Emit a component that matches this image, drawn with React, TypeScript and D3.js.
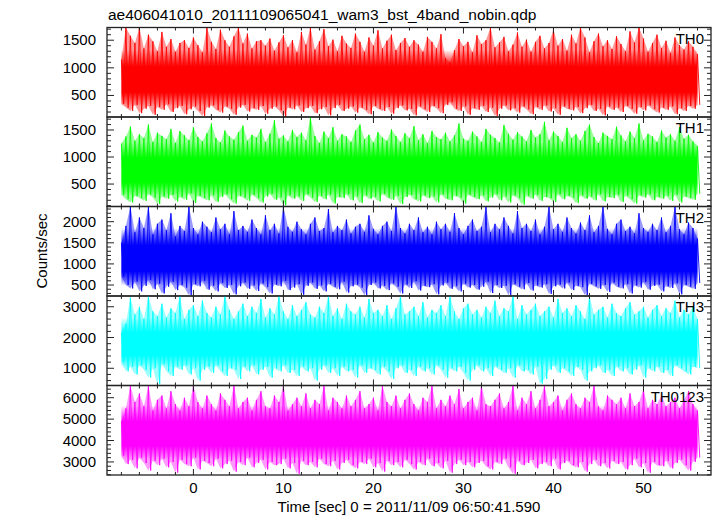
import React from 'react';
import * as d3 from 'd3';

// half-second envelope (max / min counts), t = -8 .. 56
const th0Hi = [1150, 1730, 1580, 1450, 1730, 1350, 1600, 1480, 1300, 1650,
  1380, 1520, 1290, 1450, 1500, 1360, 1550, 1410, 1280, 1730,
  1470, 1340, 1690, 1500, 1380, 1570, 1730, 1440, 1620, 1350,
  1480, 1500, 1400, 1530, 1310, 1460, 1590, 1370, 1500, 1280,
  1650, 1420, 1730, 1330, 1480, 1700, 1390, 1510, 1300, 1580,
  1440, 1360, 1620, 1470, 1290, 1550, 1400, 1680, 1350, 1490,
  1600, 1320, 1450, 1540, 1380, 1500, 1420, 1290, 1560, 1470,
  1350, 1610, 1180, 1100, 1320, 1520, 1390, 1470, 1280, 1590,
  1430, 1500, 1730, 1370, 1460, 1560, 1300, 1420, 1640, 1380,
  1510, 1290, 1470, 1580, 1350, 1450, 1690, 1400, 1520, 1310,
  1600, 1440, 1730, 1550, 1280, 1480, 1620, 1390, 1500, 1340,
  1570, 1430, 1300, 1660, 1460, 1730, 1530, 1290, 1450, 1600,
  1360, 1490, 1270, 1550, 1410, 1330, 1480, 1380, 1250];
const th0Lo = [350, 280, 220, 330, 180, 260, 310, 150, 290, 240,
  340, 200, 270, 310, 160, 250, 300, 220, 130, 280,
  320, 240, 190, 300, 260, 150, 280, 330, 210, 270,
  240, 310, 170, 260, 300, 230, 120, 280, 250, 320,
  200, 270, 310, 180, 250, 290, 140, 270, 330, 220,
  260, 300, 190, 280, 240, 160, 310, 260, 220, 290,
  170, 270, 320, 230, 260, 140, 300, 250, 200, 310,
  270, 180, 330, 380, 260, 220, 300, 150, 270, 240,
  310, 200, 280, 130, 260, 320, 230, 270, 190, 300,
  250, 160, 290, 240, 320, 210, 270, 150, 300, 260,
  230, 290, 180, 270, 330, 220, 260, 140, 300, 240,
  280, 200, 310, 260, 170, 290, 230, 320, 250, 190,
  280, 240, 300, 160, 270, 220, 310, 260, 330];

const th1Hi = [1250, 1380, 1560, 1300, 1420, 1350, 1600, 1280, 1450, 1390,
  1330, 1520, 1260, 1480, 1400, 1310, 1550, 1370, 1290, 1440,
  1620, 1350, 1270, 1490, 1380, 1320, 1460, 1580, 1300, 1410,
  1360, 1520, 1280, 1430, 1680, 1340, 1400, 1290, 1500, 1370,
  1450, 1310, 1740, 1390, 1260, 1470, 1350, 1550, 1300, 1420,
  1380, 1280, 1490, 1600, 1330, 1410, 1270, 1460, 1360, 1300,
  1510, 1390, 1280, 1440, 1350, 1570, 1310, 1420, 1260, 1480,
  1370, 1330, 1450, 1290, 1400, 1620, 1340, 1300, 1470, 1380,
  1280, 1520, 1410, 1350, 1270, 1590, 1430, 1320, 1460, 1380,
  1290, 1500, 1360, 1420, 1650, 1310, 1470, 1390, 1280, 1540,
  1350, 1420, 1300, 1480, 1600, 1370, 1260, 1450, 1390, 1330,
  1560, 1400, 1290, 1470, 1350, 1620, 1310, 1430, 1380, 1280,
  1490, 1360, 1420, 1300, 1550, 1340, 1410, 1290, 1200];
const th1Lo = [300, 220, 160, 280, 240, 190, 310, 250, 130, 270,
  230, 300, 180, 260, 210, 330, 150, 280, 240, 200,
  290, 170, 260, 310, 220, 140, 280, 250, 190, 300,
  240, 160, 270, 320, 210, 250, 110, 290, 230, 270,
  190, 310, 250, 170, 280, 220, 300, 140, 260, 240,
  310, 200, 270, 150, 290, 230, 260, 180, 320, 250,
  210, 280, 130, 260, 300, 220, 180, 290, 240, 270,
  160, 310, 230, 200, 280, 250, 140, 300, 260, 220,
  290, 180, 250, 310, 200, 270, 160, 290, 240, 120,
  280, 230, 300, 190, 260, 240, 170, 310, 220, 280,
  250, 150, 290, 230, 270, 200, 310, 180, 260, 240,
  300, 170, 280, 220, 140, 290, 250, 310, 200, 260,
  230, 280, 190, 300, 160, 270, 240, 210, 320];

const th2Hi = [1500, 1900, 2360, 1750, 2100, 1850, 2360, 1700, 1950, 2050,
  1800, 2200, 1650, 1900, 1780, 2360, 1850, 1700, 2000, 1880,
  1750, 2100, 1820, 1950, 1700, 2250, 1800, 1900, 1760, 2050,
  1850, 1700, 2150, 1800, 1950, 1720, 2360, 1880, 1760, 2000,
  1820, 1700, 1950, 2100, 1780, 1850, 2300, 1750, 1900, 1800,
  2050, 1720, 1880, 1950, 1760, 2150, 1830, 1700, 1900, 2000,
  1780, 2360, 1850, 1720, 1950, 1800, 2100, 1750, 1880, 1700,
  2000, 1820, 1950, 1760, 2200, 1850, 1700, 1900, 2050, 1780,
  1880, 2360, 1750, 1950, 1820, 2100, 1900, 1720, 2250, 1850,
  1950, 1780, 2050, 1700, 1880, 2360, 1820, 1950, 1760, 2100,
  1850, 1720, 1980, 1800, 2150, 1750, 1900, 2360, 1830, 1700,
  1950, 2050, 1780, 1880, 1720, 2200, 1850, 1760, 1950, 1800,
  2100, 1750, 1900, 2360, 1820, 1700, 1980, 1850, 1600];
const th2Lo = [700, 500, 420, 580, 350, 480, 620, 400, 530, 300,
  460, 580, 380, 500, 440, 260, 520, 470, 600, 390,
  480, 350, 550, 430, 500, 280, 470, 560, 410, 490,
  360, 540, 450, 300, 510, 470, 600, 380, 440, 520,
  270, 480, 560, 410, 490, 350, 530, 460, 400, 580,
  320, 470, 510, 440, 260, 500, 560, 420, 480, 380,
  540, 460, 300, 510, 430, 590, 370, 480, 450, 520,
  280, 490, 560, 410, 470, 350, 530, 440, 500, 390,
  460, 580, 310, 500, 430, 480, 260, 520, 460, 400,
  550, 370, 490, 440, 520, 290, 470, 510, 420, 560,
  380, 480, 450, 260, 530, 470, 410, 500, 340, 560,
  460, 420, 520, 300, 490, 440, 570, 390, 480, 510,
  350, 470, 430, 540, 280, 500, 460, 410, 550];

const th3Hi = [2150, 2450, 3300, 2750, 3000, 2600, 3350, 2850, 2700, 3100,
  2650, 2950, 2800, 3350, 2600, 2900, 3050, 2700, 3200, 2800,
  2650, 3000, 2750, 3350, 2900, 2600, 2850, 3100, 2700, 3000,
  2800, 3250, 2650, 2950, 2750, 3350, 2850, 2600, 3050, 2700,
  2900, 3150, 2750, 2650, 3000, 2800, 3350, 2700, 2950, 2600,
  3100, 2850, 2750, 3000, 2650, 3250, 2800, 2900, 2700, 3050,
  2600, 2950, 3350, 2750, 2850, 3000, 2700, 3150, 2650, 2900,
  2800, 3050, 2700, 3350, 2850, 2600, 2950, 3100, 2750, 2900,
  2650, 3000, 2800, 3200, 2700, 2950, 2850, 3350, 2600, 3050,
  2750, 2900, 3100, 2700, 2850, 3000, 2650, 3250, 2800, 2950,
  2700, 3050, 2850, 2600, 3350, 2750, 2900, 3000, 2650, 3100,
  2800, 2700, 2950, 3150, 2750, 2850, 3000, 2650, 2900, 3050,
  2700, 2950, 2800, 3200, 2650, 2900, 2750, 3000, 2600];
const th3Lo = [1200, 900, 1050, 800, 1100, 950, 700, 1000, 480, 1150,
  900, 750, 1050, 950, 1100, 800, 1000, 600, 950, 1050,
  850, 1100, 900, 750, 1000, 950, 650, 1050, 900, 1100,
  800, 950, 1050, 700, 1000, 900, 1100, 850, 950, 750,
  1050, 900, 1000, 600, 950, 1100, 850, 1000, 750, 1050,
  900, 950, 700, 1100, 850, 1000, 950, 800, 1050, 900,
  650, 1000, 1100, 850, 950, 750, 1050, 900, 1000, 800,
  1100, 950, 700, 1000, 900, 1050, 850, 600, 950, 1100,
  900, 1000, 750, 1050, 950, 850, 1000, 700, 1100, 900,
  950, 800, 1050, 500, 650, 950, 1100, 850, 1000, 900,
  750, 1050, 950, 600, 900, 1000, 1100, 850, 950, 750,
  1050, 900, 1000, 800, 950, 1100, 700, 1000, 900, 1050,
  850, 950, 750, 1100, 1000, 900, 800, 1050, 1000];

const th0123Hi = [4900, 5500, 6570, 5800, 6200, 5600, 6570, 5400, 5900, 6100,
  5500, 6300, 5700, 5400, 6000, 5600, 6570, 5800, 5500, 6100,
  5700, 5400, 6200, 5900, 5600, 6570, 5500, 5800, 6000, 5400,
  5900, 6300, 5600, 5500, 6100, 5800, 6570, 5400, 5700, 6000,
  5600, 6200, 5500, 5900, 5700, 6570, 5400, 6000, 5800, 5500,
  6100, 5600, 5900, 6300, 5500, 5700, 6000, 5400, 6570, 5800,
  5600, 6100, 5500, 5900, 6200, 5700, 5400, 6000, 5800, 6570,
  5500, 5900, 5600, 6100, 5700, 6400, 5500, 5800, 6000, 5400,
  6570, 5700, 5600, 5900, 6200, 5500, 5800, 6570, 5400, 6000,
  5700, 6300, 5500, 5900, 6570, 5600, 5800, 6100, 5400, 5900,
  6200, 5700, 5500, 6000, 5800, 6570, 5600, 5400, 6100, 5900,
  5700, 6000, 5500, 6200, 5600, 5800, 6400, 5500, 5900, 5700,
  6100, 5600, 5800, 6000, 5500, 5900, 6300, 5700, 5400];
const th0123Lo = [3300, 2900, 3100, 2700, 3200, 2950, 2600, 3050, 2850, 3150,
  2750, 3000, 2500, 3100, 2900, 2800, 3200, 2650, 3050, 2950,
  2800, 3150, 2700, 2900, 3050, 2550, 3000, 2850, 3200, 2750,
  2950, 3100, 2650, 3000, 2850, 2900, 3150, 2700, 2950, 2450,
  3050, 2850, 3000, 2750, 3150, 2900, 2800, 3050, 2650, 2950,
  3100, 2850, 2700, 3000, 2900, 3150, 2750, 2950, 2550, 3050,
  2850, 3000, 2750, 3100, 2900, 2650, 3000, 2850, 3150, 2800,
  2950, 2700, 3050, 2500, 2900, 3100, 2850, 3000, 2750, 2950,
  3050, 2800, 2650, 3000, 2900, 3150, 2750, 2450, 3050, 2850,
  2950, 3100, 2700, 2900, 3000, 2800, 3150, 2650, 2950, 3050,
  2850, 2750, 3000, 2550, 2900, 3100, 2800, 2950, 2700, 3050,
  2900, 3000, 2650, 2850, 3150, 2750, 2950, 2500, 3000, 2850,
  2800, 3050, 2700, 2950, 3100, 2850, 2600, 3000, 3200];

const bandNames = ['TH0', 'TH1', 'TH2', 'TH3', 'TH0123'];
const bandColors = ['#ff0000', '#00ff00', '#0000ff', '#00ffff', '#ff00ff'];
const bandHi = [th0Hi, th1Hi, th2Hi, th3Hi, th0123Hi];
const bandLo = [th0Lo, th1Lo, th2Lo, th3Lo, th0123Lo];
// count range where the curve is dense enough to look solid (edges fade out)
const coreLow = [300, 280, 480, 1020, 3120];
const coreHigh = [1330, 1280, 1850, 2650, 5650];
const yDomains: [number, number][] = [[110, 1730], [85, 1740], [240, 2360], [440, 3350], [2390, 6570]];
const yMajor = [500, 500, 500, 1000, 1000];
const yMinor = [100, 100, 100, 200, 200];
const xMajorTicks = [0, 10, 20, 30, 40, 50];

const title = 'ae406041010_20111109065041_wam3_bst_4band_nobin.qdp';
const xLabel = 'Time [sec] 0 = 2011/11/09 06:50:41.590';
const yLabel = 'Counts/sec';

const W = 717, H = 516;
const left = 107, right = 711, top = 27.5, panelH = 89.5;
const font = '"Liberation Sans", Arial, Helvetica, sans-serif';

const App: React.FC = () => {
  const x = d3.scaleLinear().domain([-9.6, 57.5]).range([left, right]);
  const times = th0Hi.map((_, i) => -8 + i * 0.5);
  const xMinor = d3.range(-8, 57.5, 2).filter(v => v % 10 !== 0);
  const frame = '#222';

  return (
    <svg width={W} height={H} style={{ position: 'absolute', left: 0, top: 0, background: '#fff' }}
      fontFamily={font}>
      <defs>
        {bandNames.map((n, k) => (
          <clipPath id={`clip${k}`} key={n}>
            <rect x={left} y={top + k * panelH} width={right - left} height={panelH} />
          </clipPath>
        ))}
        {bandNames.map((n, k) => (
          <linearGradient id={`core${k}`} key={`g${n}`} x1="0" y1="0" x2="0" y2="1">
            <stop offset="0" stopColor={bandColors[k]} stopOpacity={0} />
            <stop offset="0.3" stopColor={bandColors[k]} stopOpacity={1} />
            <stop offset="0.75" stopColor={bandColors[k]} stopOpacity={1} />
            <stop offset="1" stopColor={bandColors[k]} stopOpacity={0} />
          </linearGradient>
        ))}
      </defs>
      <text x={108} y={20} fontSize={15.5} fill="#000">{title}</text>

      {bandNames.map((name, k) => {
        const y0 = top + k * panelH;
        const y = d3.scaleLinear().domain(yDomains[k]).range([y0 + panelH, y0]);
        const hi = bandHi[k], lo = bandLo[k];
        const area = d3.area<number>()
          .x((_, i) => x(times[i]))
          .y0((_, i) => y(lo[i]))
          .y1(d => y(d));
        // zig-zag through each half-second max then min
        const pts: [number, number][] = [];
        hi.forEach((h, i) => {
          pts.push([x(times[i]), y(h)]);
          pts.push([x(times[i] + 0.25), y(lo[i])]);
        });
        const zig = d3.line()(pts) || '';
        const [d0, d1] = yDomains[k];
        const majors = d3.range(Math.ceil(d0 / yMajor[k]) * yMajor[k], d1, yMajor[k]);
        const minors = d3.range(Math.ceil(d0 / yMinor[k]) * yMinor[k], d1, yMinor[k])
          .filter(v => v % yMajor[k] !== 0);
        const t0 = times[0], t1 = times[times.length - 1];
        return (
          <g key={name}>
            <g clipPath={`url(#clip${k})`}>
              <path d={area(hi) || ''} fill={bandColors[k]} fillOpacity={0.4} />
              <path d={zig} fill="none" stroke={bandColors[k]} strokeWidth={0.9} />
              <rect x={x(t0)} width={x(t1) - x(t0)} y={y(coreHigh[k])}
                height={y(coreLow[k]) - y(coreHigh[k])} fill={`url(#core${k})`} />
            </g>
            {/* y ticks, left and right */}
            {majors.map(v => (
              <g key={`M${v}`} stroke={frame} strokeWidth={1}>
                <line x1={left} x2={left + 7} y1={y(v)} y2={y(v)} />
                <line x1={right} x2={right - 7} y1={y(v)} y2={y(v)} />
              </g>
            ))}
            {minors.map(v => (
              <g key={`m${v}`} stroke={frame} strokeWidth={1}>
                <line x1={left} x2={left + 4} y1={y(v)} y2={y(v)} />
                <line x1={right} x2={right - 4} y1={y(v)} y2={y(v)} />
              </g>
            ))}
            {majors.map(v => (
              <text key={`t${v}`} x={96} y={y(v) + 5} fontSize={15} textAnchor="end" fill="#000">{v}</text>
            ))}
            {/* x ticks, top and bottom of each panel */}
            {xMajorTicks.map(v => (
              <g key={`xM${v}`} stroke={frame} strokeWidth={1}>
                <line x1={x(v)} x2={x(v)} y1={y0} y2={y0 + 6} />
                <line x1={x(v)} x2={x(v)} y1={y0 + panelH} y2={y0 + panelH - 6} />
              </g>
            ))}
            {xMinor.map(v => (
              <g key={`xm${v}`} stroke={frame} strokeWidth={1}>
                <line x1={x(v)} x2={x(v)} y1={y0} y2={y0 + 3} />
                <line x1={x(v)} x2={x(v)} y1={y0 + panelH} y2={y0 + panelH - 3} />
              </g>
            ))}
            <rect x={left} y={y0} width={right - left} height={panelH} fill="none" stroke={frame} strokeWidth={1.3} />
            <text x={704} y={y0 + 16} fontSize={15} textAnchor="end" fill="#000">{name}</text>
          </g>
        );
      })}

      {xMajorTicks.map(v => (
        <text key={`xl${v}`} x={x(v)} y={493} fontSize={15} textAnchor="middle" fill="#000">{v}</text>
      ))}
      <text x={409} y={512} fontSize={15} textAnchor="middle" fill="#000">{xLabel}</text>
      <text transform={`translate(47,251) rotate(-90)`} fontSize={15} textAnchor="middle" fill="#000">{yLabel}</text>
    </svg>
  );
};

export default App;
